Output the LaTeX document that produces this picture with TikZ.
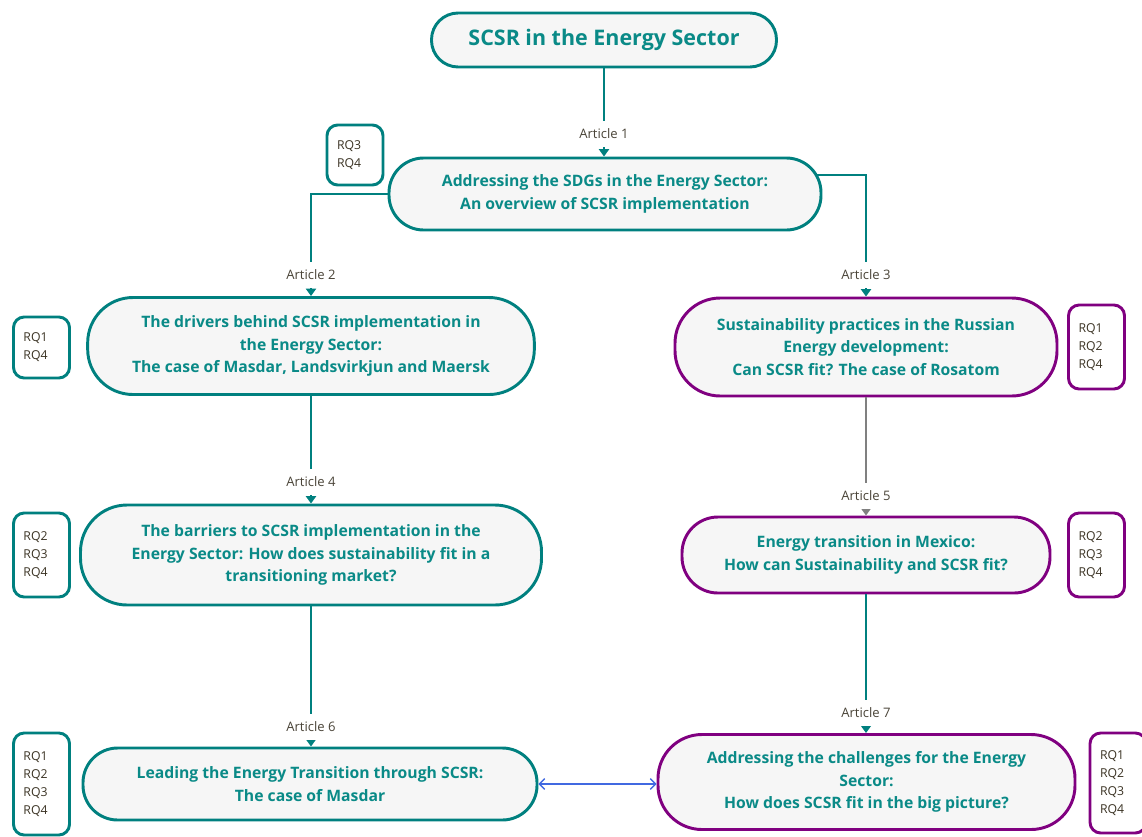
\documentclass[tikz,border=0pt]{standalone}
\usepackage{fontspec}
\setmainfont{Open Sans}
\usetikzlibrary{arrows.meta}
\definecolor{tl}{HTML}{00807F}
\definecolor{ttx}{HTML}{0A8A87}
\definecolor{pp}{HTML}{800080}
\definecolor{gl}{HTML}{808080}
\definecolor{bl}{HTML}{4169E1}
\definecolor{nf}{HTML}{F6F6F6}
\definecolor{lab}{HTML}{4A4438}
\definecolor{rqt}{HTML}{3B3324}
\begin{document}
\begin{tikzpicture}[x=0.75pt,y=-0.75pt,
  art/.style={draw=tl, line width=2.2pt, fill=nf, text=ttx, align=center, inner sep=0pt,
    font=\bfseries\fontsize{11.8}{16.9}\selectfont},
  artp/.style={art, draw=pp},
  ttl/.style={art, font=\bfseries\fontsize{16.1}{18}\selectfont},
  rq/.style={draw=tl, line width=2.2pt, fill=white, rounded corners=8pt, text=rqt,
    align=left, text width=27pt, inner xsep=7.5pt, inner ysep=0pt,
    minimum width=42pt, font=\fontsize{9.2}{13.5}\selectfont},
  rqp/.style={rq, draw=pp},
  con/.style={draw=tl, line width=1.5pt, -{Triangle[width=7.5pt,length=5.5pt]}},
  alab/.style={fill=white, text=lab, font=\fontsize{9.8}{11}\selectfont, inner sep=1pt, minimum height=19pt}
]
\useasboundingbox (0,0) rectangle (1142,836);

% main nodes
\node[ttl, minimum width=258.75pt, minimum height=40.5pt, rounded corners=20pt] (T) at (604,40) {SCSR in the Energy Sector};
\node[art, minimum width=324pt, minimum height=54pt, rounded corners=26pt] (A1) at (605,194)
  {Addressing the SDGs in the Energy Sector:\\An overview of SCSR implementation};
\node[art, minimum width=335pt, minimum height=72.75pt, rounded corners=34pt] (A2) at (311,346)
  {The drivers behind SCSR implementation in\\the Energy Sector:\\The case of Masdar, Landsvirkjun and Maersk};
\node[artp, minimum width=286.5pt, minimum height=73.5pt, rounded corners=34pt] (A3) at (866,347)
  {Sustainability practices in the Russian\\Energy development:\\Can SCSR fit? The case of Rosatom};
\node[art, minimum width=345.75pt, minimum height=75pt, rounded corners=35pt] (A4) at (311,555)
  {The barriers to SCSR implementation in the\\Energy Sector: How does sustainability fit in a\\transitioning market?};
\node[artp, minimum width=276pt, minimum height=57pt, rounded corners=27pt] (A5) at (866,555)
  {Energy transition in Mexico:\\How can Sustainability and SCSR fit?};
\node[art, minimum width=340.5pt, minimum height=54pt, rounded corners=26pt] (A6) at (310,784)
  {Leading the Energy Transition through SCSR:\\The case of Masdar};
\node[artp, minimum width=312.75pt, minimum height=71.25pt, rounded corners=33pt] (A7) at (866.5,782)
  {Addressing the challenges for the Energy\\Sector:\\How does SCSR fit in the big picture?};

% RQ boxes
\node[rq, minimum height=45pt] (R1) at (355,155) {RQ3\\RQ4};
\node[rq, minimum height=45.75pt] (R2) at (41.5,347.5) {RQ1\\RQ4};
\node[rqp, minimum height=63pt] (R3) at (1096.5,347) {RQ1\\RQ2\\RQ4};
\node[rq, minimum height=63pt] (R4) at (41.5,555) {RQ2\\RQ3\\RQ4};
\node[rqp, minimum height=63pt] (R5) at (1096.5,555) {RQ2\\RQ3\\RQ4};
\node[rq, minimum height=76.5pt] (R6) at (41.5,784) {RQ1\\RQ2\\RQ3\\RQ4};
\node[rqp, minimum height=75pt] (R7) at (1118,783) {RQ1\\RQ2\\RQ3\\RQ4};

% connectors
\draw[con] (T.south) -- (T.south |- A1.north);
\draw[con] (A1.west) -| (A2.north);
\draw[con] ([xshift=-3.75pt,yshift=14.25pt]A1.east) -| (A3.north);
\draw[con] (A2.south) -- (A2.south |- A4.north);
\draw[con, draw=gl, -{Triangle[width=7.5pt,length=5.5pt]}] (A3.south) -- (A5.north);
\draw[con] (A4.south) -- (A4.south |- A6.north);
\draw[con] (A5.south) -- (A5.south |- A7.north);
\draw[draw=bl, line width=1pt, {Straight Barb[length=4pt,width=8pt]}-{Straight Barb[length=4pt,width=8pt]}] (A6.east) -- (A6.east -| A7.west);

% article labels
\node[alab] (L1) at (604,134) {Article 1};
\node[alab] (L2) at (311,275) {Article 2};
\node[alab] (L3) at (866,275) {Article 3};
\node[alab] (L4) at (311,482) {Article 4};
\node[alab] (L5) at (866,496) {Article 5};
\node[alab] (L6) at (311,727) {Article 6};
\node[alab] (L7) at (866,713) {Article 7};
\end{tikzpicture}
\end{document}
